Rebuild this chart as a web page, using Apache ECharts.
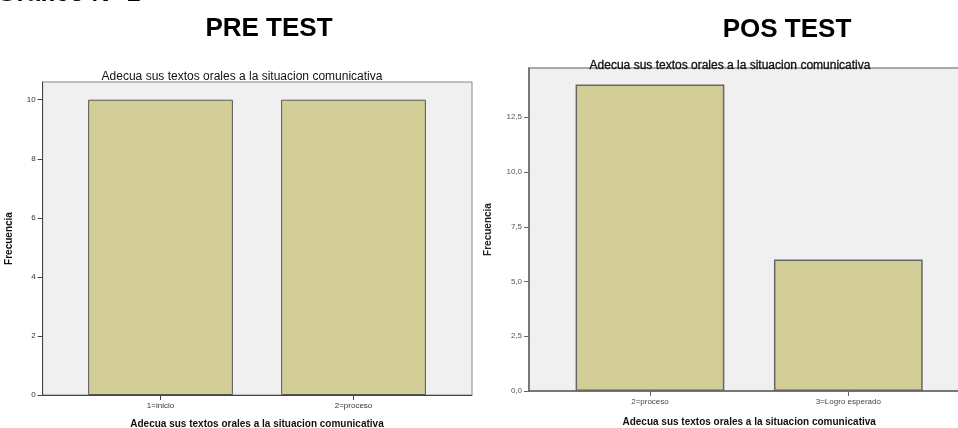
<!DOCTYPE html>
<html>
<head>
<meta charset="utf-8">
<script src="https://cdn.jsdelivr.net/npm/echarts@6/dist/echarts.min.js"></script>
<style>html,body{margin:0;padding:0;background:#fff}#c{width:958px;height:428px}</style>
</head>
<body>
<div id="c"></div>
<script>
// ---- data ----
const preCategories = ['1=inicio', '2=proceso'];
const preValues = [10, 10];
const preTicks = [0, 2, 4, 6, 8, 10];

const posCategories = ['2=proceso', '3=Logro esperado'];
const posValues = [14, 6];
const posTicks = [0, 2.5, 5, 7.5, 10, 12.5];

const pageHeading = 'Gráfico N° 1';
const chartTitle = 'Adecua sus textos orales a la situacion comunicativa';
const axisTitle = 'Adecua sus textos orales a la situacion comunicativa';
const yTitle = 'Frecuencia';

// ---- chart ----
const FONT = 'Liberation Sans, Arial, sans-serif';
const barColor = '#d3ce97';
const barBorder = '#555';
const bg = '#f0f0f0';

const preMax = 10.6, posMax = 14.75;

const chart = echarts.init(document.getElementById('c'));
chart.setOption({
  animation: false,
  backgroundColor: '#fff',
  graphic: [
    { type: 'text', x: -3, y: -5.5, silent: true,
      style: { text: pageHeading, font: 'bold 25px ' + FONT, fill: '#000', verticalAlign: 'middle', align: 'left' } }
  ],
  title: [
    { text: 'PRE TEST', left: 264, top: 11, textAlign: 'center', textStyle: { fontFamily: FONT, fontSize: 26, fontWeight: 'bold', color: '#000' } },
    { text: 'POS TEST', left: 782, top: 12, textAlign: 'center', textStyle: { fontFamily: FONT, fontSize: 26, fontWeight: 'bold', color: '#000' } },
    { text: chartTitle, left: 237, top: 66, textAlign: 'center', textStyle: { fontFamily: FONT, fontSize: 12, fontWeight: 'normal', color: '#111' } },
    { text: chartTitle, left: 725, top: 55, textAlign: 'center', textStyle: { fontFamily: FONT, fontSize: 12, fontWeight: 'normal', color: '#111', textBorderColor: '#111', textBorderWidth: 0.3 } }
  ],
  grid: [
    { left: 42.7, top: 82, width: 429.3, height: 313, show: true, backgroundColor: bg, borderColor: '#888', borderWidth: 1, outerBoundsMode: 'none', containLabel: false },
    { left: 64, top: 82, width: 386, height: 313, outerBoundsMode: 'none', containLabel: false },
    { left: 529, top: 68, width: 440, height: 323, show: true, backgroundColor: bg, borderColor: '#aaa', borderWidth: 2, outerBoundsMode: 'none', containLabel: false },
    { left: 550.8, top: 68, width: 396.7, height: 323, outerBoundsMode: 'none', containLabel: false }
  ],
  xAxis: [
    { gridIndex: 0, type: 'value', min: 0, max: 1, axisLine: { show: true, lineStyle: { color: '#444', width: 1 } }, axisTick: { show: false }, axisLabel: { show: false }, splitLine: { show: false } },
    { gridIndex: 1, type: 'category', data: preCategories,
      axisLine: { show: false }, axisTick: { show: true, alignWithLabel: true, length: 5, lineStyle: { color: '#444' } },
      axisLabel: { fontFamily: FONT, fontSize: 8, color: '#333', margin: 7 },
      name: axisTitle, nameLocation: 'middle', nameGap: 24,
      nameTextStyle: { fontFamily: FONT, fontSize: 10, fontWeight: 'bold', color: '#111' } },
    { gridIndex: 2, type: 'value', min: 0, max: 1, axisLine: { show: true, lineStyle: { color: '#666', width: 1.5 } }, axisTick: { show: false }, axisLabel: { show: false }, splitLine: { show: false } },
    { gridIndex: 3, type: 'category', data: posCategories,
      axisLine: { show: false }, axisTick: { show: true, alignWithLabel: true, length: 5, lineStyle: { color: '#666' } },
      axisLabel: { fontFamily: FONT, fontSize: 8, color: '#444', margin: 7 },
      name: axisTitle, nameLocation: 'middle', nameGap: 26,
      nameTextStyle: { fontFamily: FONT, fontSize: 10, fontWeight: 'bold', color: '#111' } }
  ],
  yAxis: [
    { gridIndex: 0, type: 'value', min: 0, max: preMax,
      axisLine: { show: true, lineStyle: { color: '#444', width: 1 } },
      axisTick: { show: true, length: 5, customValues: preTicks, lineStyle: { color: '#444' } },
      axisLabel: { fontFamily: FONT, fontSize: 8, color: '#333', margin: 7, customValues: preTicks },
      splitLine: { show: false },
      name: yTitle, nameLocation: 'middle', nameGap: 28, nameRotate: 90,
      nameTextStyle: { fontFamily: FONT, fontSize: 10, fontWeight: 'bold', color: '#111' } },
    { gridIndex: 1, type: 'value', min: 0, max: preMax, show: false },
    { gridIndex: 2, type: 'value', min: 0, max: posMax,
      axisLine: { show: true, lineStyle: { color: '#666', width: 1.5 } },
      axisTick: { show: true, length: 5, customValues: posTicks, lineStyle: { color: '#666' } },
      axisLabel: { fontFamily: FONT, fontSize: 8, color: '#555', margin: 7, customValues: posTicks,
        formatter: v => v.toFixed(1).replace('.', ',') },
      splitLine: { show: false },
      name: yTitle, nameLocation: 'middle', nameGap: 36, nameRotate: 90,
      nameTextStyle: { fontFamily: FONT, fontSize: 10, fontWeight: 'bold', color: '#222' } },
    { gridIndex: 3, type: 'value', min: 0, max: posMax, show: false }
  ],
  series: [
    { type: 'bar', xAxisIndex: 1, yAxisIndex: 1, data: preValues, barCategoryGap: '25%',
      itemStyle: { color: barColor, borderColor: barBorder, borderWidth: 1 } },
    { type: 'bar', xAxisIndex: 3, yAxisIndex: 3, data: posValues, barCategoryGap: '25%',
      itemStyle: { color: barColor, borderColor: '#666', borderWidth: 1.5 } }
  ]
});
</script>
</body>
</html>
